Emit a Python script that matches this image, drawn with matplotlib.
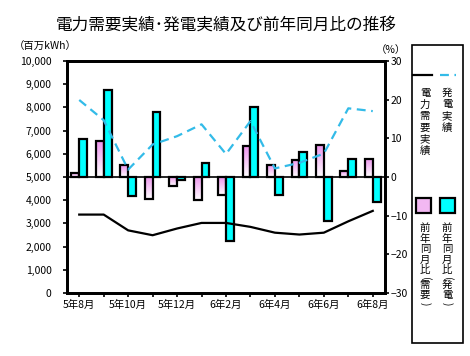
import numpy as np
import matplotlib
matplotlib.use("Agg")
from matplotlib import pyplot as plt
from matplotlib.patches import Rectangle
from matplotlib.lines import Line2D

plt.rcParams['font.family'] = ['Noto Sans CJK JP', 'DejaVu Sans']

# data
months = ['5年8月', '5年9月', '5年10月', '5年11月', '5年12月', '6年1月', '6年2月',
          '6年3月', '6年4月', '6年5月', '6年6月', '6年7月', '6年8月']
demand = [3380, 3380, 2700, 2490, 2780, 3020, 3020, 2850, 2600, 2520, 2600, 3090, 3540]
gen = [8320, 7450, 5320, 6400, 6760, 7270, 5990, 7410, 5370, 5610, 6010, 7960, 7840]
demand_yoy = [1.0, 9.2, 3.1, -5.7, -2.4, -6.0, -4.6, 7.9, 3.1, 4.4, 8.2, 1.5, 4.7]
gen_yoy = [9.8, 22.5, -4.8, 16.8, -0.7, 3.5, -16.6, 18.0, -4.6, 6.4, -11.3, 4.7, -6.5]

W, H = 470, 356
fig = plt.figure(figsize=(W / 100, H / 100), dpi=100)

def fx(px):
    return px / W

def fy(py):
    return 1 - py / H

ax = fig.add_axes([fx(67), fy(293), fx(385) - fx(67), fy(61) - fy(293)])
ax2 = ax.twinx()

x = np.arange(len(months))
bw = 0.32

# bars on the % axis (pink ones get a top-to-bottom gradient)
pink_top = np.array([0.93, 0.58, 0.93])
grad = np.linspace(0, 1, 64)[:, None, None]
grad_img = pink_top + (1 - pink_top) * grad
for i in x:
    v = demand_yoy[i]
    r = Rectangle((i - bw, 0), bw, v, facecolor='none', edgecolor='black', lw=1.6, zorder=3)
    ax2.add_patch(r)
    top, bot = max(v, 0), min(v, 0)
    im = ax2.imshow(grad_img, extent=(i - bw, i, bot, top), aspect='auto', zorder=2,
                    origin='upper', interpolation='bilinear')
    im.set_clip_path(r)
ax2.bar(x + bw / 2, gen_yoy, bw, color='#00FFFF', edgecolor='black', lw=1.6, zorder=3)
ax2.axhline(0, color='black', lw=1.2, zorder=4)

# lines on the kWh axis
ax.plot(x, demand, color='black', lw=1.6, zorder=5)
ax.plot(x, gen, color='#33BBE8', lw=1.6, dashes=(4, 2.5), zorder=5)
ax.set_zorder(ax2.get_zorder() + 1)
ax.patch.set_visible(False)

ax.set_xlim(-0.5, len(months) - 0.5)
ax.set_ylim(0, 10000)
ax.set_yticks(np.arange(0, 10001, 1000))
ax.set_yticklabels([f'{v:,}' for v in range(0, 10001, 1000)])
ax2.set_ylim(-30, 30)
ax2.set_yticks(np.arange(-30, 31, 10))

ax.set_xticks(x)
ax.set_xticklabels([m if i % 2 == 0 else '' for i, m in enumerate(months)])

for a in (ax, ax2):
    for s in a.spines.values():
        s.set_linewidth(2)
    a.tick_params(length=3, width=1.2, labelsize=7.5, colors='black', pad=2)
ax.tick_params(axis='y', pad=8)
ax.tick_params(axis='x', labelsize=7.5, pad=2)
ax2.tick_params(axis='y', pad=1)

fig.text(fx(226), fy(25), '電力需要実績･発電実績及び前年同月比の推移', fontsize=12,
         ha='center', va='center')
fig.text(fx(14), fy(47), '（百万kWh）', fontsize=7.5, ha='left', va='center')
fig.text(fx(376), fy(50), '（%）', fontsize=7.5, ha='left', va='center')

# legend box on the right, vertical Japanese text
fig.patches.append(Rectangle((fx(412), fy(343)), fx(463) - fx(412), fy(45) - fy(343),
                             transform=fig.transFigure, fill=False, lw=1.2, ec='black'))
fig.lines.append(Line2D([fx(413), fx(432)], [fy(75), fy(75)], color='black', lw=1.6,
                        transform=fig.transFigure))
fig.lines.append(Line2D([fx(440), fx(456)], [fy(75), fy(75)], color='#33BBE8', lw=1.6,
                        dashes=(4, 2.5), transform=fig.transFigure))
fig.patches.append(Rectangle((fx(416), fy(213)), fx(431) - fx(416), fy(198) - fy(213),
                             transform=fig.transFigure, fc='#F2B8F2', ec='black', lw=1.6))
fig.patches.append(Rectangle((fx(440), fy(213)), fx(455) - fx(440), fy(198) - fy(213),
                             transform=fig.transFigure, fc='#00FFFF', ec='black', lw=1.6))

def vtext(cx, ytop, s, step):
    y = ytop
    for ch in s:
        if ch in '()':
            y -= step * 0.2
            fig.text(fx(cx), fy(y), ch, fontsize=7.5, ha='center', va='center', rotation=-90)
            y += step * 0.6
        else:
            fig.text(fx(cx), fy(y), ch, fontsize=7.5, ha='center', va='center')
            y += step

vtext(425, 93, '電力需要実績', 11.5)
vtext(447, 93, '発電実績', 11.5)
vtext(425, 228, '前年同月比(需要)', 10.5)
vtext(447, 228, '前年同月比(発電)', 10.5)

fig.savefig('out.png', dpi=100)
